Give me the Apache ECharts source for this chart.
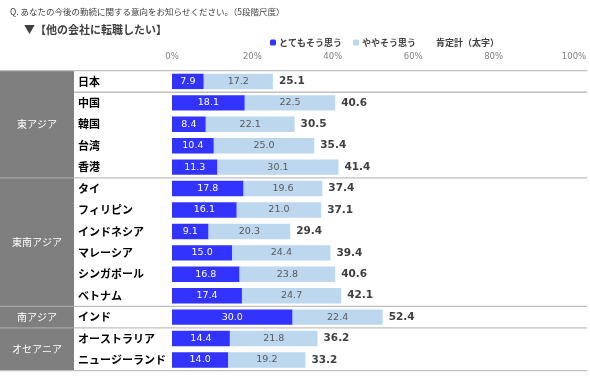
<!DOCTYPE html>
<html>
<head>
    <meta charset="UTF-8">
    <title>転職意向</title>
    <script type="text/javascript" src="https://cdn.jsdelivr.net/npm/echarts@6/dist/echarts.min.js"></script>
    <style>
        html, body { margin: 0; padding: 0; background: #fff; }
        #chart { width: 590px; height: 376px; }
    </style>
</head>
<body>
<div id="chart"></div>
<script type="text/javascript">
    // 国・地域
    var countries = ['日本', '中国', '韓国', '台湾', '香港', 'タイ', 'フィリピン', 'インドネシア',
        'マレーシア', 'シンガポール', 'ベトナム', 'インド', 'オーストラリア', 'ニュージーランド'];
    // とてもそう思う
    var strong = [7.9, 18.1, 8.4, 10.4, 11.3, 17.8, 16.1, 9.1, 15.0, 16.8, 17.4, 30.0, 14.4, 14.0];
    // ややそう思う
    var some = [17.2, 22.5, 22.1, 25.0, 30.1, 19.6, 21.0, 20.3, 24.4, 23.8, 24.7, 22.4, 21.8, 19.2];
    // 肯定計
    var totals = [25.1, 40.6, 30.5, 35.4, 41.4, 37.4, 37.1, 29.4, 39.4, 40.6, 42.1, 52.4, 36.2, 33.2];
    // 地域グループ（国の数）
    var groupNames = ['東アジア', '東南アジア', '南アジア', 'オセアニア'];
    var groupSizes = [5, 6, 1, 2];
    var xTicks = [0, 20, 40, 60, 80, 100];

    var jp = '"Noto Sans CJK JP", sans-serif';
    var num = '"DejaVu Sans", Verdana, sans-serif';

    var myChart = echarts.init(document.getElementById('chart'));

    myChart.setOption({
        animation: false,
        title: [{
            text: 'Q. あなたの今後の勤続に関する意向をお知らせください。（5段階尺度）',
            left: 5, top: 3,
            textStyle: {fontSize: 8.5, fontWeight: 'normal', color: '#404040', fontFamily: jp}
        }, {
            text: '▼【他の会社に転職したい】',
            left: 19, top: 19,
            textStyle: {fontSize: 11, fontWeight: 'bold', color: '#404040', fontFamily: jp}
        }],
        legend: {
            left: 265, top: 33,
            itemWidth: 6, itemHeight: 6, itemGap: 11,
            selectedMode: false,
            textStyle: {fontSize: 9, fontWeight: 'bold', color: '#404040', fontFamily: jp, padding: [0, 0, 0, -2]},
            data: ['とてもそう思う', 'ややそう思う', '肯定計（太字）']
        },
        grid: {left: 172, top: 70.7, width: 402, height: 300},
        xAxis: {
            type: 'value', position: 'top',
            min: xTicks[0], max: xTicks[xTicks.length - 1], interval: 20,
            axisLine: {show: false}, axisTick: {show: false}, splitLine: {show: false},
            axisLabel: {formatter: '{value}%', color: '#808080', fontSize: 8.5, fontFamily: num, margin: 9}
        },
        yAxis: {
            type: 'category', inverse: true, data: countries,
            axisLine: {show: false}, axisTick: {show: false},
            axisLabel: {align: 'left', margin: 94, fontSize: 11, fontWeight: 'bold', color: '#000', fontFamily: jp}
        },
        series: [{
            name: 'とてもそう思う', type: 'bar', stack: 'a', data: strong,
            barCategoryGap: '28%',
            itemStyle: {color: '#3333ff'},
            label: {show: true, position: 'inside', color: '#fff', fontSize: 9.5, fontFamily: num,
                formatter: function (p) { return p.value.toFixed(1); }}
        }, {
            name: 'ややそう思う', type: 'bar', stack: 'a', data: some,
            itemStyle: {color: '#bdd7ee'},
            label: {show: true, position: 'inside', color: '#595959', fontSize: 9.5, fontFamily: num,
                formatter: function (p) { return p.value.toFixed(1); }}
        }, {
            name: '肯定計（太字）', type: 'bar', data: totals, barGap: '-100%',
            itemStyle: {color: 'rgba(0,0,0,0)'},
            label: {show: true, position: 'right', distance: 6, color: '#404040', fontSize: 10.5,
                fontWeight: 'bold', fontFamily: num,
                formatter: function (p) { return p.value.toFixed(1); }}
        }]
    });

    /*------------ 表の枠線と地域ラベル ------------*/
    (function () {
        var y0 = myChart.convertToPixel({yAxisIndex: 0}, 0);
        var y1 = myChart.convertToPixel({yAxisIndex: 0}, 1);
        var step = y1 - y0;
        function edge(i) { return y0 + (i - 0.5) * step; } // 行iの上端
        var tableTop = edge(0), tableBottom = edge(countries.length);
        var colW = 74, right = 587;

        var els = [{
            type: 'rect', shape: {x: 0, y: tableTop, width: colW, height: tableBottom - tableTop},
            style: {fill: '#7f7f7f'}, z: 0
        }, {
            type: 'line', shape: {x1: 0, y1: tableTop, x2: right, y2: tableTop},
            style: {stroke: '#bfbfbf', lineWidth: 1.2}
        }, {
            type: 'line', shape: {x1: 0, y1: tableBottom, x2: right, y2: tableBottom},
            style: {stroke: '#bfbfbf', lineWidth: 1.2}
        }, {
            // 日本の下の線
            type: 'line', shape: {x1: colW, y1: edge(1), x2: right, y2: edge(1)},
            style: {stroke: '#bfbfbf', lineWidth: 1.5}
        }];

        var start = 0;
        for (var g = 0; g < groupNames.length; g++) {
            var end = start + groupSizes[g];
            els.push({
                type: 'text', x: colW / 2, y: (edge(start) + edge(end)) / 2,
                style: {text: groupNames[g], fill: '#fff', fontSize: 10, fontFamily: jp,
                    align: 'center', verticalAlign: 'middle'}, z: 2
            });
            if (end < countries.length) {
                els.push({
                    type: 'line', shape: {x1: 0, y1: edge(end), x2: colW, y2: edge(end)},
                    style: {stroke: '#a6a6a6', lineWidth: 1.2}, z: 1
                });
                els.push({
                    type: 'line', shape: {x1: colW, y1: edge(end), x2: right, y2: edge(end)},
                    style: {stroke: '#bfbfbf', lineWidth: 1.2}
                });
            }
            start = end;
        }

        myChart.setOption({graphic: els});
    })();
</script>
</body>
</html>
